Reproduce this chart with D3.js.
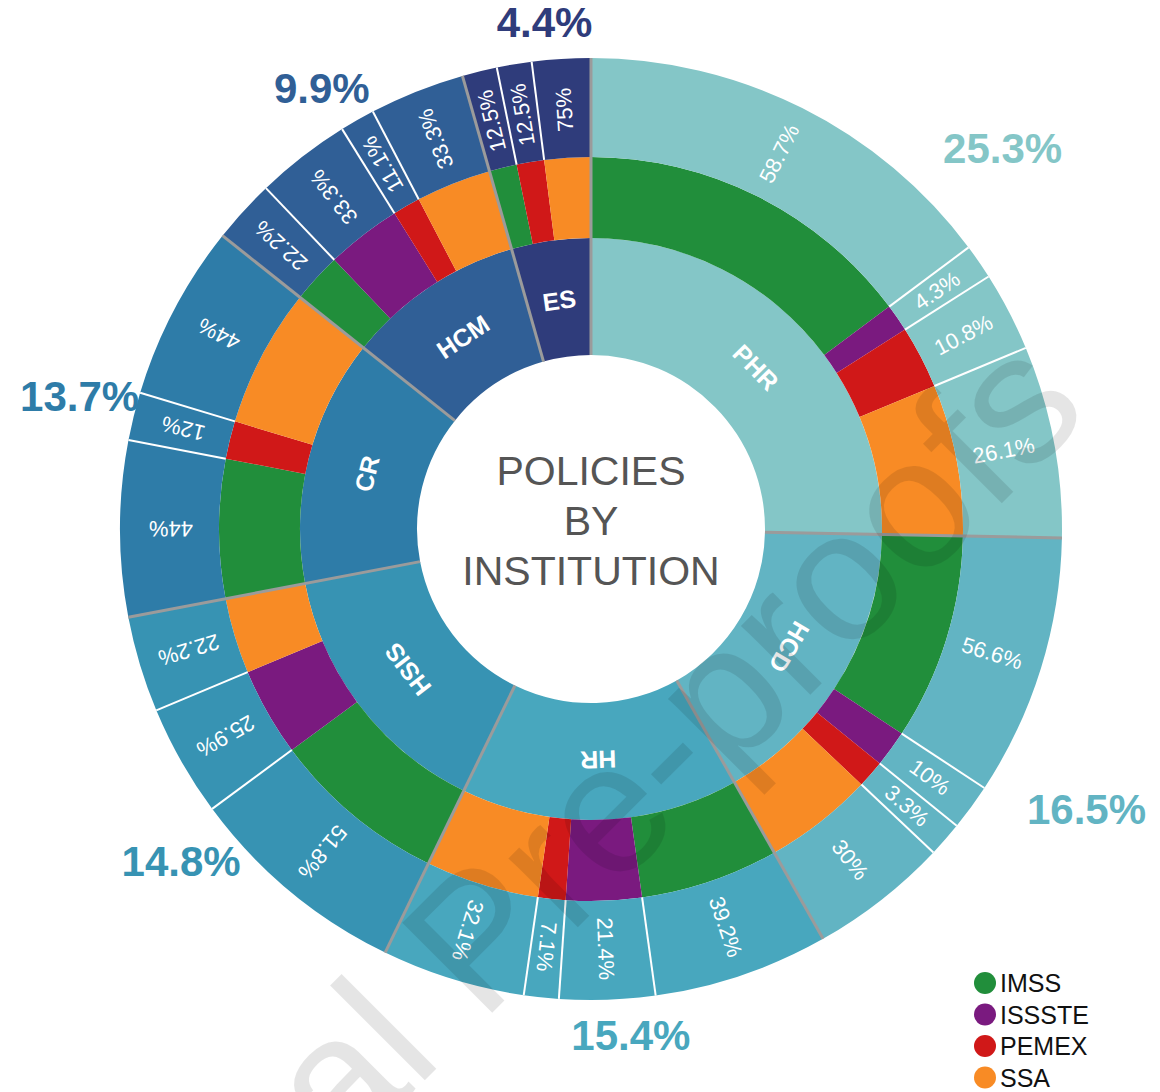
<!DOCTYPE html>
<html>
<head>
<meta charset="utf-8">
<script src="https://d3js.org/d3.v7.min.js"></script>
<style>
  body { margin: 0; background: #fff; }
  text { font-family: "Liberation Sans", Arial, Helvetica, sans-serif; }
</style>
</head>
<body>
<div id="chart"></div>
<script>
/* SUNBURST - policies by institution */

// policy categories and their share of all policies (%)
var categories = ["PHR", "HCD", "HR", "HSIS", "CR", "HCM", "ES"];
var categoryShares = [25.3, 16.5, 15.4, 14.8, 13.7, 9.9, 4.4];

// institutions and their share inside each category (%), same order as categories
var institutions = ["IMSS", "ISSSTE", "PEMEX", "SSA"];
var imssShares   = [58.7, 56.6, 39.2, 51.8, 44, 22.2, 12.5];
var issteShares  = [4.3, 10, 21.4, 25.9, 0, 33.3, 0];
var pemexShares  = [10.8, 3.3, 7.1, 0, 12, 11.1, 12.5];
var ssaShares    = [26.1, 30, 32.1, 22.2, 44, 33.3, 75];

var centerLines = ["POLICIES", "BY", "INSTITUTION"];

// set the dimensions of the graph
var width = 1160,
    height = 1092,
    cx = 591,
    cy = 529;

var rHole = 174,
    rInner = 291,
    rMiddle = 372,
    rOuter = 471;

// thin slices get at least this angle so their label fits
var minSlice = 4.3 * Math.PI / 180;

var catColor = d3.scaleOrdinal()
  .domain(categories)
  .range(["#84c6c7", "#62b4c3", "#48a7be", "#3793b3", "#2e7ca8", "#305f96", "#2f3c7b"]);

var instColor = d3.scaleOrdinal()
  .domain(institutions)
  .range(["#218e3b", "#7a1a7f", "#d01818", "#f88b25"]);

var svg = d3.select("#chart")
  .append("svg")
    .attr("width", width)
    .attr("height", height);

var g = svg.append("g")
    .attr("transform", "translate(" + cx + "," + cy + ")");

// categories as a pie, clockwise from 12 o'clock
var catData = categories.map(function(c, i) { return {name: c, value: categoryShares[i]}; });
var catArcs = d3.pie()
  .sort(null)
  .value(function(d) { return d.value; })(catData);

// institutions split each category's angle
var subArcs = [];
catArcs.forEach(function(c, i) {
  var vals = [imssShares[i], issteShares[i], pemexShares[i], ssaShares[i]];
  var rows = institutions.map(function(inst, j) {
    return {cat: c.data.name, inst: inst, value: vals[j]};
  }).filter(function(d) { return d.value > 0; });

  // widen slices under the minimum, shrink the others to make room
  var span = c.endAngle - c.startAngle,
      total = d3.sum(rows, function(d) { return d.value; }),
      small = rows.filter(function(d) { return d.value / total * span < minSlice; }),
      bigTotal = total - d3.sum(small, function(d) { return d.value; }),
      rest = span - small.length * minSlice;
  rows.forEach(function(d) {
    d.angle = small.indexOf(d) >= 0 ? minSlice : d.value / bigTotal * rest;
  });

  d3.pie()
    .sort(null)
    .startAngle(c.startAngle)
    .endAngle(c.endAngle)
    .value(function(d) { return d.angle; })(rows)
    .forEach(function(a) { subArcs.push(a); });
});

var innerArc = d3.arc().innerRadius(rHole).outerRadius(rInner);
var middleArc = d3.arc().innerRadius(rInner).outerRadius(rMiddle);
var outerArc = d3.arc().innerRadius(rMiddle).outerRadius(rOuter);

// inner ring: categories
g.selectAll(".cat")
  .data(catArcs)
  .enter()
  .append("path")
    .attr("class", "cat")
    .attr("d", innerArc)
    .attr("fill", function(d) { return catColor(d.data.name); });

// middle ring: institutions
g.selectAll(".inst")
  .data(subArcs)
  .enter()
  .append("path")
    .attr("class", "inst")
    .attr("d", middleArc)
    .attr("fill", function(d) { return instColor(d.data.inst); });

// outer ring: institution share, in category colour
g.selectAll(".share")
  .data(subArcs)
  .enter()
  .append("path")
    .attr("class", "share")
    .attr("d", outerArc)
    .attr("fill", function(d) { return catColor(d.data.cat); });

function pt(angle, r) {
  return [Math.sin(angle) * r, -Math.cos(angle) * r];
}

// white lines between institutions in the outer ring
g.selectAll(".subline")
  .data(subArcs.filter(function(d) {
    return !catArcs.some(function(c) { return Math.abs(c.startAngle - d.startAngle) < 1e-6; });
  }))
  .enter()
  .append("line")
    .attr("x1", function(d) { return pt(d.startAngle, rMiddle)[0]; })
    .attr("y1", function(d) { return pt(d.startAngle, rMiddle)[1]; })
    .attr("x2", function(d) { return pt(d.startAngle, rOuter)[0]; })
    .attr("y2", function(d) { return pt(d.startAngle, rOuter)[1]; })
    .attr("stroke", "#fff")
    .attr("stroke-width", 2);

// grey lines between categories, through all rings
g.selectAll(".catline")
  .data(catArcs)
  .enter()
  .append("line")
    .attr("x1", function(d) { return pt(d.startAngle, rHole)[0]; })
    .attr("y1", function(d) { return pt(d.startAngle, rHole)[1]; })
    .attr("x2", function(d) { return pt(d.startAngle, rOuter)[0]; })
    .attr("y2", function(d) { return pt(d.startAngle, rOuter)[1]; })
    .attr("stroke", "#9b9b9b")
    .attr("stroke-width", 3);

function midDeg(d) { return (d.startAngle + d.endAngle) / 2 * 180 / Math.PI; }

// category names, along the ring
g.selectAll(".catlabel")
  .data(catArcs)
  .enter()
  .append("text")
    .attr("transform", function(d) {
      var p = pt((d.startAngle + d.endAngle) / 2, 231);
      return "translate(" + p[0] + "," + p[1] + ") rotate(" + midDeg(d) + ")";
    })
    .attr("text-anchor", "middle")
    .attr("dominant-baseline", "central")
    .attr("fill", "#fff")
    .attr("font-weight", "bold")
    .attr("font-size", 25)
    .text(function(d) { return d.data.name; });

// institution shares, radial text reading outward
g.selectAll(".sharelabel")
  .data(subArcs)
  .enter()
  .append("text")
    .attr("transform", function(d) {
      var p = pt((d.startAngle + d.endAngle) / 2, 420);
      return "translate(" + p[0] + "," + p[1] + ") rotate(" + (midDeg(d) - 90) + ")";
    })
    .attr("text-anchor", "middle")
    .attr("dominant-baseline", "central")
    .attr("fill", "#fff")
    .attr("font-size", 22)
    .text(function(d) { return d.data.value + "%"; });

// category totals outside the rings, boxes kept clear of a circle
var totals = g.selectAll(".total")
  .data(catArcs)
  .enter()
  .append("text")
    .attr("text-anchor", "middle")
    .attr("dominant-baseline", "central")
    .attr("fill", function(d) { return catColor(d.data.name); })
    .attr("font-weight", "bold")
    .attr("font-size", 42)
    .text(function(d) { return d.data.value + "%"; });

totals.attr("transform", function(d) {
  var a = (d.startAngle + d.endAngle) / 2,
      w = this.getComputedTextLength(),
      r = rOuter + 19 + w / 2 * Math.abs(Math.sin(a)) + 15 * Math.abs(Math.cos(a)),
      p = pt(a, r);
  return "translate(" + (p[0] + 24) + "," + p[1] + ")";
});

// title in the hole
g.selectAll(".center")
  .data(centerLines)
  .enter()
  .append("text")
    .attr("x", 0)
    .attr("y", function(d, i) { return -44 + i * 50; })
    .attr("text-anchor", "middle")
    .attr("fill", "#555")
    .attr("font-size", 41)
    .text(function(d) { return d; });

// legend
var legend = svg.selectAll(".legend")
  .data(institutions)
  .enter()
  .append("g")
    .attr("transform", function(d, i) { return "translate(985," + (983 + i * 31.5) + ")"; });

legend.append("circle")
    .attr("r", 11)
    .attr("fill", function(d) { return instColor(d); });

legend.append("text")
    .attr("x", 15)
    .attr("y", 9)
    .attr("fill", "#111")
    .attr("font-size", 25)
    .text(function(d) { return d; });

// journal watermark
svg.append("text")
    .attr("transform", "translate(16,1489) rotate(-45)")
    .attr("fill", "#000")
    .attr("fill-opacity", 0.1)
    .attr("font-size", 185)
    .text("Journal Pre-proofs");
</script>
</body>
</html>
